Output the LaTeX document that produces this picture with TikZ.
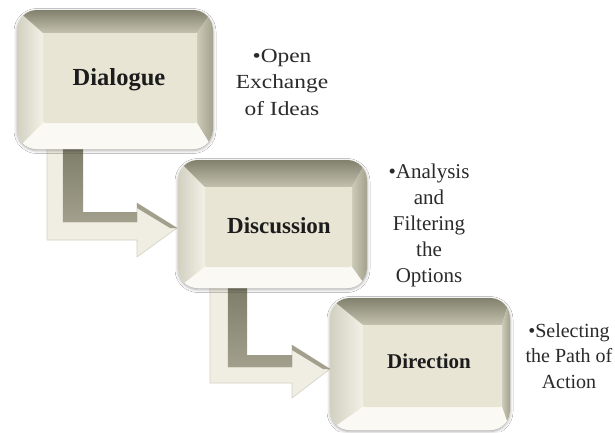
\documentclass[tikz,border=0pt]{standalone}
\usepackage{fontspec}
\setmainfont{Liberation Serif}
\newfontfamily\wideserif[FakeStretch=1.17]{Liberation Serif}
\usetikzlibrary{shadows.blur}

\definecolor{facecol}{HTML}{E8E5D4}
\definecolor{bevtop}{HTML}{82816D}
\definecolor{bevtopin}{HTML}{C4C2AF}
\definecolor{bevright}{HTML}{A4A28E}
\definecolor{bevrightin}{HTML}{CCCAB8}
\definecolor{bevleft}{HTML}{F3F1E6}
\definecolor{bevleftout}{HTML}{D2D0C1}
\definecolor{bevbottom}{HTML}{FAF9F3}
\definecolor{armfront}{HTML}{F0EEE2}
\definecolor{armwalltop}{HTML}{7B7A67}
\definecolor{armwallbot}{HTML}{A2A08C}
\definecolor{armedge}{HTML}{D3D1C3}
\definecolor{inktext}{HTML}{1C1C1C}
\definecolor{notetext}{HTML}{2A2A2A}

\tikzset{
  boxlabel/.style={font=\bfseries\fontsize{#1}{#1}\selectfont, text=inktext,
    anchor=base, inner sep=0pt},
  % multi-line notes: the base anchor sits on the last line
  sidenote/.style={text=notetext, align=center, anchor=base, inner sep=0pt},
  armface/.style={fill=armfront, draw=armedge, line width=0.6pt, line join=round},
  armwall/.style={top color=armwalltop, bottom color=armwallbot},
}

% bevelled key: outer corners (#1,#2)-(#3,#4), flat face (#5,#6)-(#7,#8)
\def\bevelbox(#1,#2)(#3,#4)(#5,#6)(#7,#8){%
  \fill[bevbottom, rounded corners=20pt,
    blur shadow={shadow xshift=0pt, shadow yshift=-1.5pt,
      shadow blur radius=3pt, shadow opacity=35}]
    (#1,#2) rectangle (#3,#4);
  \begin{scope}
    \clip[rounded corners=20pt] (#1,#2) rectangle (#3,#4);
    \shade[left color=bevleftout, right color=bevleft]
      (#1,#2) -- (#5,#6) -- (#5,#8) -- (#1,#4) -- cycle;
    \shade[top color=bevtop, bottom color=bevtopin]
      (#1,#2) -- (#3,#2) -- (#7,#6) -- (#5,#6) -- cycle;
    \shade[left color=bevrightin, right color=bevright]
      (#3,#2) -- (#3,#4) -- (#7,#8) -- (#7,#6) -- cycle;
    \fill[bevbottom]
      (#1,#4) -- (#5,#8) -- (#7,#8) -- (#3,#4) -- cycle;
  \end{scope}
  \fill[facecol, rounded corners=2pt] (#5,#6) rectangle (#7,#8);
}

\begin{document}
\begin{tikzpicture}[x=1pt,y=-1pt]
\useasboundingbox (0,0) rectangle (615,432);
\fill[white] (0,0) rectangle (615,432);

% first elbow arrow
\fill[armface] (47,140) -- (47,240) -- (137,240) -- (137,257) -- (177,228)
  -- (137,203) -- (137,222) -- (63,222) -- (63,140) -- cycle;
\shade[armwall] (63,140) -- (63,222) -- (137,222) -- (137,212) -- (83,212)
  -- (83,140) -- cycle;
\fill[armwallbot] (137,203) -- (177,228) -- (170,228) -- (137,208) -- cycle;

% second elbow arrow
\fill[armface] (210,280) -- (210,383) -- (292,383) -- (292,398) -- (330,369)
  -- (292,345) -- (292,367) -- (228,367) -- (228,280) -- cycle;
\shade[armwall] (228,280) -- (228,367) -- (292,367) -- (292,355) -- (247,355)
  -- (247,280) -- cycle;
\fill[armwallbot] (292,345) -- (330,369) -- (323,369) -- (292,350) -- cycle;

% keys
\bevelbox(17,10)(213,149)(43,33)(197,123)
\bevelbox(178,160)(367,288)(205,187)(352,267)
\bevelbox(330,298)(510,430)(363,325)(502,407)

\node[boxlabel=24.5] (dialogue) at (119,85) {Dialogue};
\node[boxlabel=23] (discussion) at (279,233) {Discussion};
\node[boxlabel=21] (direction) at (429,368) {Direction};

% notes beside the keys
\node[sidenote, font=\wideserif\fontsize{20}{26.5}\selectfont] (note1)
  at (282,115) {•Open\\Exchange\\of Ideas};
\node[sidenote, font=\fontsize{21}{26}\selectfont] (note2)
  at (429,282) {•Analysis\\and\\Filtering\\the\\Options};
\node[sidenote, font=\fontsize{20}{25.5}\selectfont] (note3)
  at (569,388) {•Selecting\\the Path of\\Action};
\end{tikzpicture}
\end{document}
